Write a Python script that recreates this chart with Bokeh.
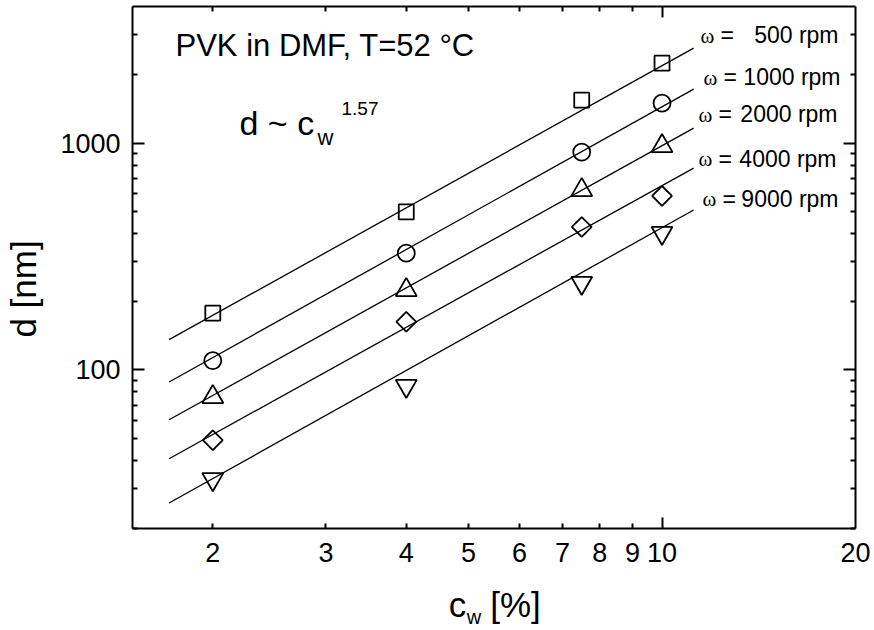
import numpy as np
from bokeh.plotting import figure
from bokeh.models import FixedTicker, LogAxis, Label, Range1d, PrintfTickFormatter
from bokeh.embed import file_html
from bokeh.resources import INLINE

# ---------------- data ----------------
conc = [2, 4, 7.5, 10]                      # c_w [%]
d_500 = [178, 497, 1546, 2250]             # d [nm], squares
d_1000 = [110, 327, 913, 1500]             # circles
d_2000 = [76, 225, 621, 970]               # up triangles
d_4000 = [49, 163, 427, 585]               # diamonds
d_9000 = [33, 85, 242, 402]                # down triangles

fit_x = [1.71, 11.2]                       # power-law fit lines, end points
fit_500 = [136, 2620]
fit_1000 = [88.5, 1730]
fit_2000 = [60.3, 1164]
fit_4000 = [40.6, 776]
fit_9000 = [25.9, 507]

speeds = ["500 rpm", "1000 rpm", "2000 rpm", "4000 rpm", "9000 rpm"]

x_tick_labels = [2, 3, 4, 5, 6, 7, 8, 9, 10, 20]
x_major = [10]
x_minor = [2, 3, 4, 5, 6, 7, 8, 9]
y_major = [100, 1000]
y_minor = [20, 30, 40, 50, 60, 70, 80, 90, 200, 300, 400, 500, 600, 700, 800, 900, 2000, 3000]

X0, X1, Y0, Y1 = 1.5, 20, 20, 4000

# ---------------- figure ----------------
FL, FR, FT, FB = 132, 855, 6, 529
W, H = 874, 630
p = figure(width=W, height=H, x_axis_type="log", y_axis_type="log",
           x_range=Range1d(X0, X1), y_range=Range1d(Y0, Y1),
           output_backend="svg", toolbar_location=None,
           min_border_left=FL, min_border_right=W - FR,
           min_border_top=FT, min_border_bottom=H - FB)
p.grid.visible = False
p.outline_line_color = None
p.background_fill_color = "white"
p.border_fill_color = "white"

FONT = "Liberation Sans"


def at(px, py):
    """layout helper: canvas pixel -> data coordinates (for text placement)"""
    lx = np.log10(X0) + (px - FL) / (FR - FL) * (np.log10(X1) - np.log10(X0))
    ly_ = np.log10(Y1) - (py - FT) / (FB - FT) * (np.log10(Y1) - np.log10(Y0))
    return float(10 ** lx), float(10 ** ly_)


def style_ticks(ax, major, minor, major_len, minor_len):
    ax.ticker = FixedTicker(ticks=major, minor_ticks=minor)
    ax.major_tick_in = major_len
    ax.major_tick_out = 0
    ax.minor_tick_in = minor_len
    ax.minor_tick_out = 0
    ax.axis_line_width = 2
    ax.axis_line_color = "black"
    ax.major_tick_line_width = 2
    ax.minor_tick_line_width = 2
    ax.major_tick_line_color = "black"
    ax.minor_tick_line_color = "black"


def hide_labels(ax):
    ax.major_label_text_font_size = "1px"
    ax.major_label_standoff = 0
    ax.major_label_text_alpha = 0


def text_axis(ticks, labels, size, standoff, orientation="horizontal"):
    ax = LogAxis(ticker=FixedTicker(ticks=ticks),
                 major_label_overrides=dict(zip(ticks, labels)))
    ax.axis_line_color = None
    ax.major_tick_line_color = None
    ax.minor_tick_line_color = None
    ax.major_tick_in = 0
    ax.major_tick_out = 0
    ax.minor_tick_in = 0
    ax.minor_tick_out = 0
    ax.major_label_standoff = standoff
    ax.major_label_text_font = FONT
    ax.major_label_text_font_size = f"{size}px"
    ax.major_label_text_color = "black"
    ax.major_label_orientation = orientation
    return ax


# bottom: ticks (inner axis)
bx = p.below[0]
style_ticks(bx, x_major, x_minor, 11, 5)
hide_labels(bx)

# bottom: tick labels (outer axis)
bl = LogAxis(ticker=FixedTicker(ticks=x_tick_labels),
             formatter=PrintfTickFormatter(format="%d"))
bl.axis_line_color = None
bl.major_tick_line_color = None
bl.minor_tick_line_color = None
bl.major_tick_in = 0
bl.major_tick_out = 0
bl.major_label_standoff = 14
bl.major_label_text_font = FONT
bl.major_label_text_font_size = "27px"
bl.major_label_text_color = "black"
p.add_layout(bl, "below")

# bottom: axis title  c_w [%]  (subscript row first, main row pulled back up)
xc = round(at(457, 0)[0], 3)
xbr = round(at(515, 0)[0], 3)
xw = round(at(473.5, 0)[0], 3)
p.add_layout(text_axis([xw], ["w"], 20, 41), "below")
p.add_layout(text_axis([xc, xbr], ["c", "[%]"], 35, -46), "below")

# top
tx = LogAxis()
style_ticks(tx, x_major, x_minor, 11, 5)
hide_labels(tx)
p.add_layout(tx, "above")

# left
ly = p.left[0]
style_ticks(ly, y_major, y_minor, 12, 5)
ly.formatter = PrintfTickFormatter(format="%d")
ly.major_label_standoff = 12
ly.major_label_text_font = FONT
ly.major_label_text_font_size = "27px"
ly.major_label_text_color = "black"

# left: axis title  d [nm]
yt = round(at(0, 289)[1], 1)
p.add_layout(text_axis([yt], ["d [nm]"], 35, 14, orientation="vertical"), "left")

# right
ry = LogAxis()
style_ticks(ry, y_major, y_minor, 12, 5)
hide_labels(ry)
p.add_layout(ry, "right")

# ---------------- fit lines ----------------
for fy in [fit_500, fit_1000, fit_2000, fit_4000, fit_9000]:
    p.line(fit_x, fy, line_color="black", line_width=1.3)

# ---------------- markers ----------------
mk = dict(fill_color=None, line_color="black", line_width=1.8)
p.scatter(conc, d_500, marker="square", size=15, **mk)
p.scatter(conc, d_1000, marker="circle", size=17, **mk)
p.scatter(conc, d_2000, marker="triangle", size=21, **mk)
p.scatter(conc, d_4000, marker="square", size=14, angle=np.pi / 4, **mk)
p.scatter(conc, d_9000, marker="inverted_triangle", size=21, **mk)


# ---------------- texts inside the frame ----------------
def add_text(text, px, py, size, font=FONT, align="left"):
    # empirical correction of the baseline placement (about 0.37 em)
    x, y = at(px, py - 0.37 * size)
    p.add_layout(Label(x=x, y=y, text=text, text_font=font, text_font_size=f"{size}px",
                       text_align=align, text_baseline="alphabetic",
                       text_color="black"))


add_text("PVK in DMF, T=52 \u00b0C", 175, 57, 31)
add_text("d ~ c", 239, 135, 34)
add_text("w", 317, 145, 22)
add_text("1.57", 341, 115, 19)

omega_px = [700, 703, 698, 698, 702]
eq_px = [720, 723, 718, 718, 722]
right_px = [838, 840, 837, 836, 838]
base_py = [43, 85, 122, 167, 207]
for s, ox, ex, rx, by in zip(speeds, omega_px, eq_px, right_px, base_py):
    add_text("\u03c9", ox, by, 21, font="Liberation Serif")
    add_text("=", ex, by, 23)
    add_text(s, rx, by, 23, align="right")

open("out.html", "w").write(file_html(p, INLINE))
